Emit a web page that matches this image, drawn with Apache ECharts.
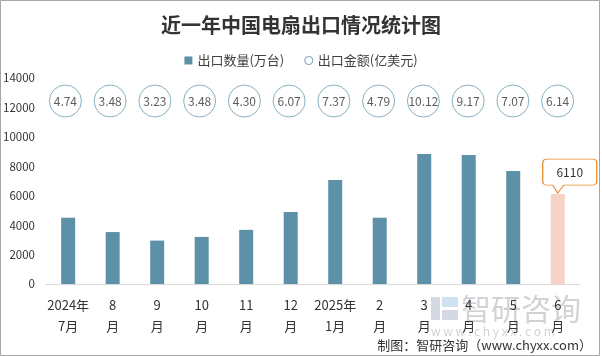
<!DOCTYPE html>
<html>
<head>
<meta charset="utf-8">
<script src="https://cdn.jsdelivr.net/npm/echarts@6/dist/echarts.min.js"></script>
<style>
html,body{margin:0;padding:0;background:#fff;}
#c{width:602px;height:356px;}
</style>
</head>
<body>
<div id="c"></div>
<script>
var categories = ['2024年\n7月','8\n月','9\n月','10\n月','11\n月','12\n月','2025年\n1月','2\n月','3\n月','4\n月','5\n月','6\n月'];
var quantity = [4500, 3530, 2950, 3200, 3680, 4900, 7060, 4500, 8830, 8770, 7680, 6110];
var amount = [4.74, 3.48, 3.23, 3.48, 4.30, 6.07, 7.37, 4.79, 10.12, 9.17, 7.07, 6.14];
var yTicks = [0, 2000, 4000, 6000, 8000, 10000, 12000, 14000];

var FONT = '"Noto Sans CJK SC", "Noto Sans", sans-serif';
var barColor = '#5d91a7';
var lastColor = '#f7d2c7';
var ringColor = '#6c9bb2';

var chart = echarts.init(document.getElementById('c'), null, {renderer: 'canvas'});

var barData = quantity.map(function (v, i) {
  if (i === quantity.length - 1) {
    return {value: v, itemStyle: {color: lastColor}};
  }
  return v;
});

var lastIdx = quantity.length - 1;

var option = {
  backgroundColor: '#fff',
  animation: false,
  textStyle: {fontFamily: FONT},
  title: {
    text: '近一年中国电扇出口情况统计图',
    left: 'center',
    top: 10,
    textStyle: {fontSize: 20, fontWeight: 'bold', color: '#333', fontFamily: FONT}
  },
  legend: {
    top: 49,
    left: 'center',
    itemWidth: 8,
    itemHeight: 8,
    itemGap: 20,
    textStyle: {fontSize: 13, color: '#404040', fontFamily: FONT},
    data: [
      {name: '出口数量(万台)', icon: 'rect', itemStyle: {color: barColor}},
      {name: '出口金额(亿美元)', icon: 'circle', itemStyle: {color: '#fff', borderColor: ringColor, borderWidth: 1.2}}
    ]
  },
  grid: [
    {left: 43, right: 22, top: 78, bottom: 72},
    {left: 43, right: 22, top: 85, height: 32}
  ],
  xAxis: [
    {
      type: 'category',
      gridIndex: 0,
      data: categories,
      axisLine: {lineStyle: {color: '#d9d9d9', width: 1}},
      axisTick: {show: false},
      axisLabel: {color: '#333', fontSize: 13, lineHeight: 21, margin: 11, interval: 0, fontFamily: FONT}
    },
    {
      type: 'category',
      gridIndex: 1,
      data: categories,
      show: false
    }
  ],
  yAxis: [
    {
      type: 'value',
      gridIndex: 0,
      min: yTicks[0],
      max: yTicks[yTicks.length - 1],
      interval: 2000,
      axisLine: {show: false},
      axisTick: {show: false},
      splitLine: {show: false},
      axisLabel: {color: '#333', fontSize: 11.5, margin: 11, fontFamily: FONT, formatter: function (v) { return String(v); }}
    },
    {
      type: 'category',
      gridIndex: 1,
      data: ['金额'],
      show: false
    }
  ],
  series: [
    {
      name: '出口数量(万台)',
      type: 'bar',
      xAxisIndex: 0,
      yAxisIndex: 0,
      data: barData,
      barWidth: 14,
      itemStyle: {color: barColor},
      markPoint: {
        symbol: 'path://M4,0 H50 Q54,0 54,4 V22 Q54,26 50,26 H21 L15,34 L10,26 H4 Q0,26 0,22 V4 Q0,0 4,0 Z',
        symbolSize: [54, 34],
        symbolKeepAspect: false,
        symbolOffset: [12, -18],
        itemStyle: {color: '#fff', borderColor: '#e8892b', borderWidth: 1},
        label: {
          show: true,
          position: 'inside',
          offset: [0, -4],
          color: '#333',
          fontSize: 12,
          fontFamily: FONT,
          formatter: function (p) { return String(p.value); }
        },
        data: [{coord: [lastIdx, quantity[lastIdx]], value: quantity[lastIdx]}]
      }
    },
    {
      name: '出口金额(亿美元)',
      type: 'scatter',
      xAxisIndex: 1,
      yAxisIndex: 1,
      symbol: 'circle',
      symbolSize: 32,
      data: amount.map(function (v, i) { return [i, 0, v]; }),
      itemStyle: {color: '#fff', borderColor: ringColor, borderWidth: 1},
      label: {
        show: true,
        position: 'inside',
        color: '#333',
        fontSize: 12,
        fontFamily: FONT,
        formatter: function (p) { return p.value[2].toFixed(2); }
      }
    }
  ],
  graphic: [
    {
      type: 'rect',
      silent: true,
      z: 100,
      shape: {x: 0.5, y: 0.5, width: 599, height: 355},
      style: {fill: 'none', stroke: '#a6a6a6', lineWidth: 1}
    },
    {
      type: 'group',
      silent: true,
      z: 0,
      children: [
        {type: 'rect', shape: {x: 431, y: 297, width: 9, height: 23}, style: {fill: 'rgba(160,170,195,0.45)'}},
        {type: 'rect', shape: {x: 442, y: 297, width: 16, height: 10}, style: {fill: 'rgba(150,190,220,0.45)'}},
        {type: 'rect', shape: {x: 442, y: 310, width: 16, height: 10}, style: {fill: 'rgba(160,170,195,0.45)'}},
        {type: 'text', style: {x: 461, y: 309, text: '智研咨询', font: '30px ' + FONT, fill: 'rgba(150,155,165,0.45)', textVerticalAlign: 'middle'}},
        {type: 'text', style: {x: 431, y: 331, text: 'w w w . c h y x x . c o m', font: '12px ' + FONT, fill: 'rgba(150,155,165,0.45)', textVerticalAlign: 'middle'}}
      ]
    },
    {
      type: 'text',
      silent: true,
      z: 50,
      style: {x: 592, y: 345, text: '制图：智研咨询（www.chyxx.com）', font: '13px ' + FONT, fill: '#333', textAlign: 'right', textVerticalAlign: 'middle'}
    }
  ]
};

chart.setOption(option);
</script>
</body>
</html>
